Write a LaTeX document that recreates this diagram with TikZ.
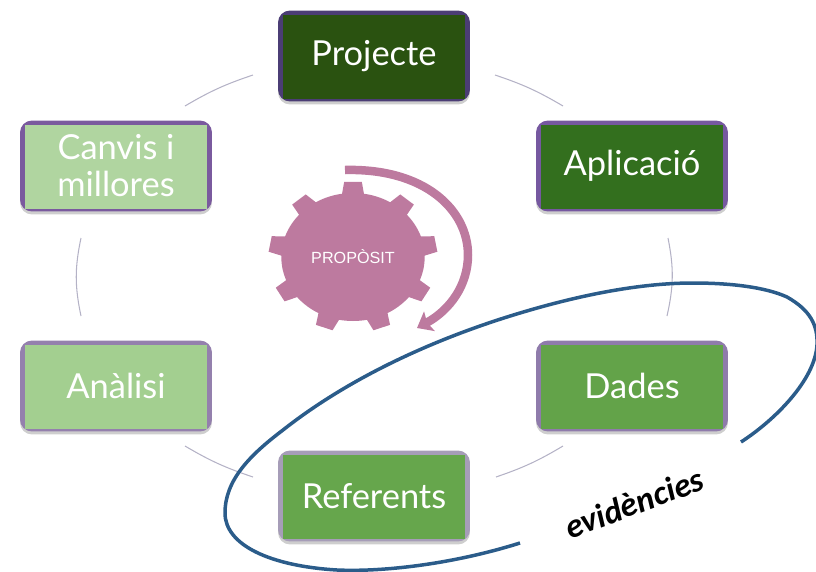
\documentclass[tikz,border=0pt]{standalone}
\usepackage{fontspec}
\setmainfont{Lato}
\newfontfamily\labelfont{Liberation Sans}
\newfontfamily\notefont{Carlito}
\usetikzlibrary{arrows.meta,shadows}
\definecolor{gearpink}{HTML}{BD7A9F}
\definecolor{loopblue}{HTML}{2B5C8A}
\definecolor{linkgrey}{HTML}{B4B2C6}
\definecolor{projectefill}{HTML}{2A5210}
\definecolor{projecteedge}{HTML}{4B3D75}
\definecolor{aplicaciofill}{HTML}{336F1E}
\definecolor{aplicacioedge}{HTML}{7658A0}
\definecolor{dadesfill}{HTML}{63A349}
\definecolor{dadesedge}{HTML}{8F7BAB}
\definecolor{referentsfill}{HTML}{66A64C}
\definecolor{referentsedge}{HTML}{A69DB8}
\definecolor{analisifill}{HTML}{A3CF90}
\definecolor{analisiedge}{HTML}{9480AD}
\definecolor{canvisfill}{HTML}{B0D5A0}
\definecolor{canvisedge}{HTML}{7A5A9E}
\begin{document}
\begin{tikzpicture} [x=0.02cm,y=-0.02cm,
stage/.style 2 args={fill=#2,rounded corners=0.24cm,minimum width=3.84cm,minimum height=1.82cm,
  align=center,text=white,font=\fontsize{19.6}{21}\selectfont,
  drop shadow={shadow xshift=0pt,shadow yshift=-0.06cm,fill=black!35,opacity=0.55},
  path picture={\fill [#1,sharp corners] ([xshift=0.1cm,yshift=0.04cm]path picture bounding box.south west)
    rectangle ([xshift=-0.1cm,yshift=-0.08cm]path picture bounding box.north east);}},
link/.style={linkgrey,line width=0.6pt},
gear/.style={fill=gearpink},
]
    \useasboundingbox (0,0) rectangle (816,572);
    \node [stage={projectefill}{projecteedge}] (projecte) at (374,56) {Projecte};
    \node [stage={aplicaciofill}{aplicacioedge}] (aplicacio) at (632,166) {Aplicació};
    \node [stage={dadesfill}{dadesedge}] (dades) at (632,386) {Dades};
    \node [stage={referentsfill}{referentsedge}] (referents) at (374,496) {Referents};
    \node [stage={analisifill}{analisiedge}] (analisi) at (116,386) {Anàlisi};
    \node [stage={canvisfill}{canvisedge}] (canvis) at (116,166) {Canvis i\\millores};

    % links between the stages
    \coordinate (a1) at (495,75);  \coordinate (a2) at (563,106);
    \coordinate (b1) at (668,238); \coordinate (b2) at (667,316);
    \coordinate (c1) at (563,446); \coordinate (c2) at (496,477);
    \coordinate (d1) at (253,477); \coordinate (d2) at (185,446);
    \coordinate (e1) at (81,316);  \coordinate (e2) at (81,238);
    \coordinate (f1) at (185,106); \coordinate (f2) at (253,75);
    \draw [link] (a1) to[bend left=6] (a2);
    \draw [link] (b1) to[bend left=12] (b2);
    \draw [link] (c1) to[bend left=6] (c2);
    \draw [link] (d1) to[bend left=6] (d2);
    \draw [link] (e1) to[bend left=12] (e2);
    \draw [link] (f1) to[bend left=6] (f2);

    % gear, stretched a little sideways
    \begin{scope}[shift={(353,257)},xscale=1.12]
        \fill [gear] (0,0) circle (64);
        \foreach \t in {-90,-50,-10,30,70,110,150,-170,-130}
            \fill [gear] (\t-10:60) -- (\t-6:75.5) -- (\t+6:75.5) -- (\t+10:60) -- cycle;
    \end{scope}
    \node [text=white,font=\labelfont\fontsize{9.2}{11}\selectfont] (proposit) at (353,257) {PROPÒSIT};
    \coordinate (turn1) at (345,170);
    \coordinate (turn2) at (468,255);
    \coordinate (turn3) at (417,328);
    \draw [gearpink,line width=0.17cm,-{Stealth[length=0.28cm,width=0.44cm,inset=0.05cm]}] (turn1)
        .. controls (425,168) and (468,210) .. (turn2) .. controls (468,285) and (450,310) .. (turn3);

    % loop round the evidence
    \coordinate (loop1) at (520,543);
    \coordinate (loop2) at (741,442);
    \draw [loopblue,line width=0.07cm] (loop1)
        .. controls (450,565) and (380,572) .. (337,570)
        .. controls (270,566) and (225,545) .. (225,513)
        .. controls (225,480) and (250,455) .. (283,430)
        .. controls (340,385) and (420,343) .. (520,313)
        .. controls (580,295) and (640,283) .. (693,283)
        .. controls (730,283) and (765,287) .. (787,297)
        .. controls (810,310) and (818,325) .. (817,345)
        .. controls (815,380) and (775,420) .. (loop2);
    \node [rotate=20.5,font=\notefont\fontsize{19.3}{22}\selectfont\bfseries\itshape] (evidencies) at (634,503) {evidències};
\end{tikzpicture}
\end{document}
